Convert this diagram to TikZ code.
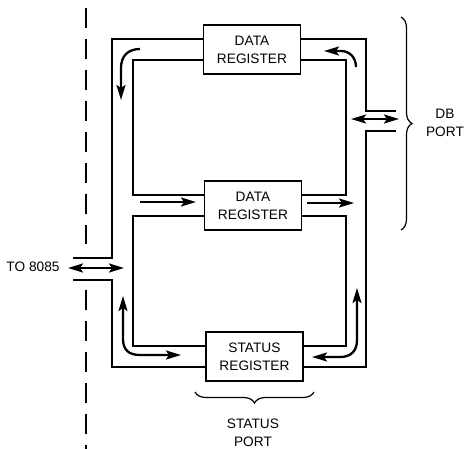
\documentclass[tikz,border=0pt]{standalone}
\usepackage{fontspec}
\setmainfont{Liberation Sans}
\usetikzlibrary{arrows.meta,decorations.pathreplacing}
\begin{document}
\begin{tikzpicture}[x=1pt,y=-1pt,
  reg/.style={draw,line width=1.3pt,minimum width=97pt,minimum height=49pt,inner sep=0pt,align=center,font=\fontsize{13.7}{18}\selectfont},
  wire/.style={line width=1.2pt},
  flow/.style={line width=2.3pt,-{Stealth[length=15pt,width=9pt,inset=3pt]}},
  biflow/.style={line width=2.3pt,{Stealth[length=15pt,width=9pt,inset=3pt]}-{Stealth[length=15pt,width=9pt,inset=3pt]}},
  lbl/.style={align=center,inner sep=0pt,font=\fontsize{13.7}{18}\selectfont},
  brc/.style={decorate,decoration={brace,amplitude=11pt},line width=1.2pt}]
\useasboundingbox (0,0) rectangle (467,449);
% dashed boundary
\draw[line width=1.4pt,dash pattern=on 20pt off 11pt] (86,8) -- (86,244);
\draw[line width=1.4pt,dash pattern=on 20pt off 11pt] (86,290) -- (86,449);
% registers
\node[reg] (dr1) at (252,49.5) {DATA\\REGISTER};
\node[reg] (dr2) at (253,205.5) {DATA\\REGISTER};
\node[reg] (sr) at (254.5,356.5) {STATUS\\REGISTER};
% free ends
\coordinate (tl) at (73,258);
\coordinate (bl) at (73,280);
\coordinate (tr) at (396,111);
\coordinate (br) at (396,131);
% wires left
\draw[wire] ([yshift=10.5pt]dr1.west) -- (112,39) -- (112,258) -- (tl);
\draw[wire] ([yshift=-10.5pt]dr1.west) -- (133,60) -- (133,195) -- ([yshift=10.5pt]dr2.west);
\draw[wire] ([yshift=-10.5pt]dr2.west) -- (133,216) -- (133,346) -- ([yshift=10.5pt]sr.west);
\draw[wire] (bl) -- (112,280) -- (112,367) -- ([yshift=-10.5pt]sr.west);
% wires right
\draw[wire] ([yshift=10.5pt]dr1.east) -- (366,39) -- (366,111) -- (tr);
\draw[wire] ([yshift=-10.5pt]dr1.east) -- (346,60) -- (346,195) -- ([yshift=10.5pt]dr2.east);
\draw[wire] ([yshift=-10.5pt]dr2.east) -- (346,216) -- (346,346) -- ([yshift=10.5pt]sr.east);
\draw[wire] (br) -- (366,131) -- (366,367) -- ([yshift=-10.5pt]sr.east);
% curved arrows
\coordinate (a1s) at (140,49); \coordinate (a1e) at (121,100);
\draw[flow] (a1s) .. controls (128,49) and (121,56) .. (121,68) -- (a1e);
\coordinate (a2s) at (356,67); \coordinate (a2e) at (324,51);
\draw[flow] (a2s) .. controls (356,58) and (350,51) .. (341,51) -- (a2e);
\coordinate (a3s) at (123,296); \coordinate (a3e) at (181,355);
\draw[biflow] (a3s) -- (123,339) .. controls (123,350) and (129,355) .. (140,355) -- (a3e);
\coordinate (a4s) at (312,357); \coordinate (a4e) at (357,288);
\draw[biflow] (a4s) -- (340,357) .. controls (351,357) and (357,351) .. (357,340) -- (a4e);
% straight arrows
\coordinate (m1s) at (140,202); \coordinate (m1e) at (196,202);
\draw[flow] (m1s) -- (m1e);
\coordinate (m2s) at (307,203); \coordinate (m2e) at (354,203);
\draw[flow] (m2s) -- (m2e);
\coordinate (hls) at (68,268); \coordinate (hle) at (124,268);
\draw[biflow] (hls) -- (hle);
\coordinate (hrs) at (351,119); \coordinate (hre) at (399,119);
\draw[biflow] (hrs) -- (hre);
% braces
\coordinate (b1s) at (401,17); \coordinate (b1e) at (401,230);
\draw[brc] (b1s) -- (b1e);
\coordinate (b2s) at (314,392); \coordinate (b2e) at (195,392);
\draw[brc] (b2s) -- (b2e);
% labels
\node[lbl] (db) at (445,123) {DB\\PORT};
\node[lbl] (sp) at (253,433) {STATUS\\PORT};
\node[lbl] (to) at (33,267) {TO 8085};
\end{tikzpicture}
\end{document}
